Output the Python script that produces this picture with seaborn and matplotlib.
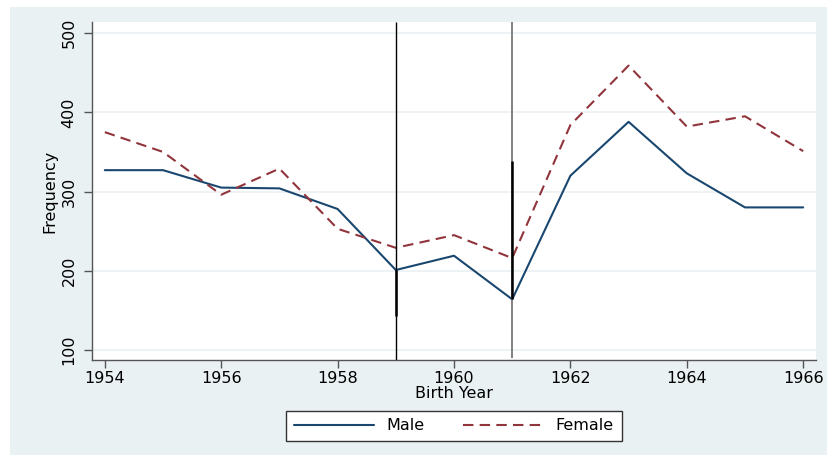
import matplotlib
matplotlib.use("Agg")
import matplotlib.pyplot as plt
from matplotlib.patches import Rectangle
from matplotlib.lines import Line2D
import seaborn as sns
import pandas as pd

years = [1954, 1955, 1956, 1957, 1958, 1959, 1960, 1961, 1962, 1963, 1964, 1965, 1966]
male = [327, 327, 305, 304, 278, 201, 219, 164, 320, 388, 323, 280, 280]
female = [375, 350, 296, 329, 253, 229, 245, 216, 384, 459, 382, 395, 351]
series_names = ["Male", "Female"]
x_ticks = [1954, 1956, 1958, 1960, 1962, 1964, 1966]
y_ticks = [100, 200, 300, 400, 500]

# reference markers at the two cut-off years: (year, low, high)
marker_full = [(1959, 87, 514), (1961, 90, 514)]
marker_thick = [(1959, 143, 201), (1961, 164, 338)]

sns.set_theme(style="white")
plt.rcParams["font.family"] = ["DejaVu Sans"]

BG = "#eaf1f3"
MALE_C = "#1a476f"
FEMALE_C = "#90353b"
FS = 11.5

fig = plt.figure(figsize=(8.28, 4.55), dpi=100, facecolor="white")
fig.patches.append(Rectangle((10 / 828, 0), 1, 1 - 7 / 455, transform=fig.transFigure,
                             facecolor=BG, edgecolor="none", zorder=-5))
ax = fig.add_axes([92 / 828, 1 - 360 / 455, (816 - 92) / 828, (360 - 22) / 455])
ax.set_facecolor("white")
ax.set_zorder(1)

df = pd.DataFrame({
    "Birth Year": years * 2,
    "Frequency": male + female,
    "Sex": [series_names[0]] * len(years) + [series_names[1]] * len(years),
})

sns.lineplot(data=df, x="Birth Year", y="Frequency", hue="Sex", style="Sex",
             palette={"Male": MALE_C, "Female": FEMALE_C},
             dashes={"Male": "", "Female": (5, 3)},
             linewidth=1.5, ax=ax, legend=False, zorder=3)

# vertical cut-off lines
(x0, lo0, hi0), (x1, lo1, hi1) = marker_full
ax.vlines(x0, lo0, hi0, color="black", linewidth=1.0, zorder=4)
ax.vlines(x1, lo1, hi1, color="#777777", linewidth=1.3, zorder=4)
for x, lo, hi in marker_thick:
    ax.vlines(x, lo, hi, color="black", linewidth=1.8, zorder=4)

ax.set_xlim(1953.78, 1966.22)
ax.set_ylim(87.4, 514)
ax.set_xticks(x_ticks)
ax.set_yticks(y_ticks)
ax.set_yticklabels([str(v) for v in y_ticks], rotation=90, va="center")
ax.grid(axis="y", color=BG, linewidth=1.2)
ax.grid(axis="x", visible=False)

for side in ["top", "right"]:
    ax.spines[side].set_visible(False)
for side in ["left", "bottom"]:
    ax.spines[side].set_color("#555555")
    ax.spines[side].set_linewidth(1.0)

ax.tick_params(axis="both", which="major", direction="out", length=6, width=1,
               color="#555555", labelsize=FS, labelcolor="black", bottom=True, left=True)
ax.tick_params(axis="x", pad=2)
ax.tick_params(axis="y", pad=5)
ax.set_xlabel("Birth Year", fontsize=FS, labelpad=0, color="black")
ax.set_ylabel("Frequency", fontsize=FS, labelpad=3, color="black")

handles = [Line2D([], [], color=MALE_C, linewidth=1.5),
           Line2D([], [], color=FEMALE_C, linewidth=1.5, linestyle=(0, (5, 3)))]
leg = fig.legend(handles, series_names, loc="center", bbox_to_anchor=(454 / 828, 1 - 426 / 455),
                 ncol=2, frameon=True, fancybox=False, fontsize=FS, handlelength=5.0,
                 columnspacing=2.4, borderpad=0.5, handletextpad=0.8, framealpha=1)
leg.get_frame().set_edgecolor("#333333")
leg.get_frame().set_linewidth(1.0)
leg.get_frame().set_facecolor("white")
for t in leg.get_texts():
    t.set_color("black")

fig.savefig("out.png", dpi=100, facecolor=fig.get_facecolor())
